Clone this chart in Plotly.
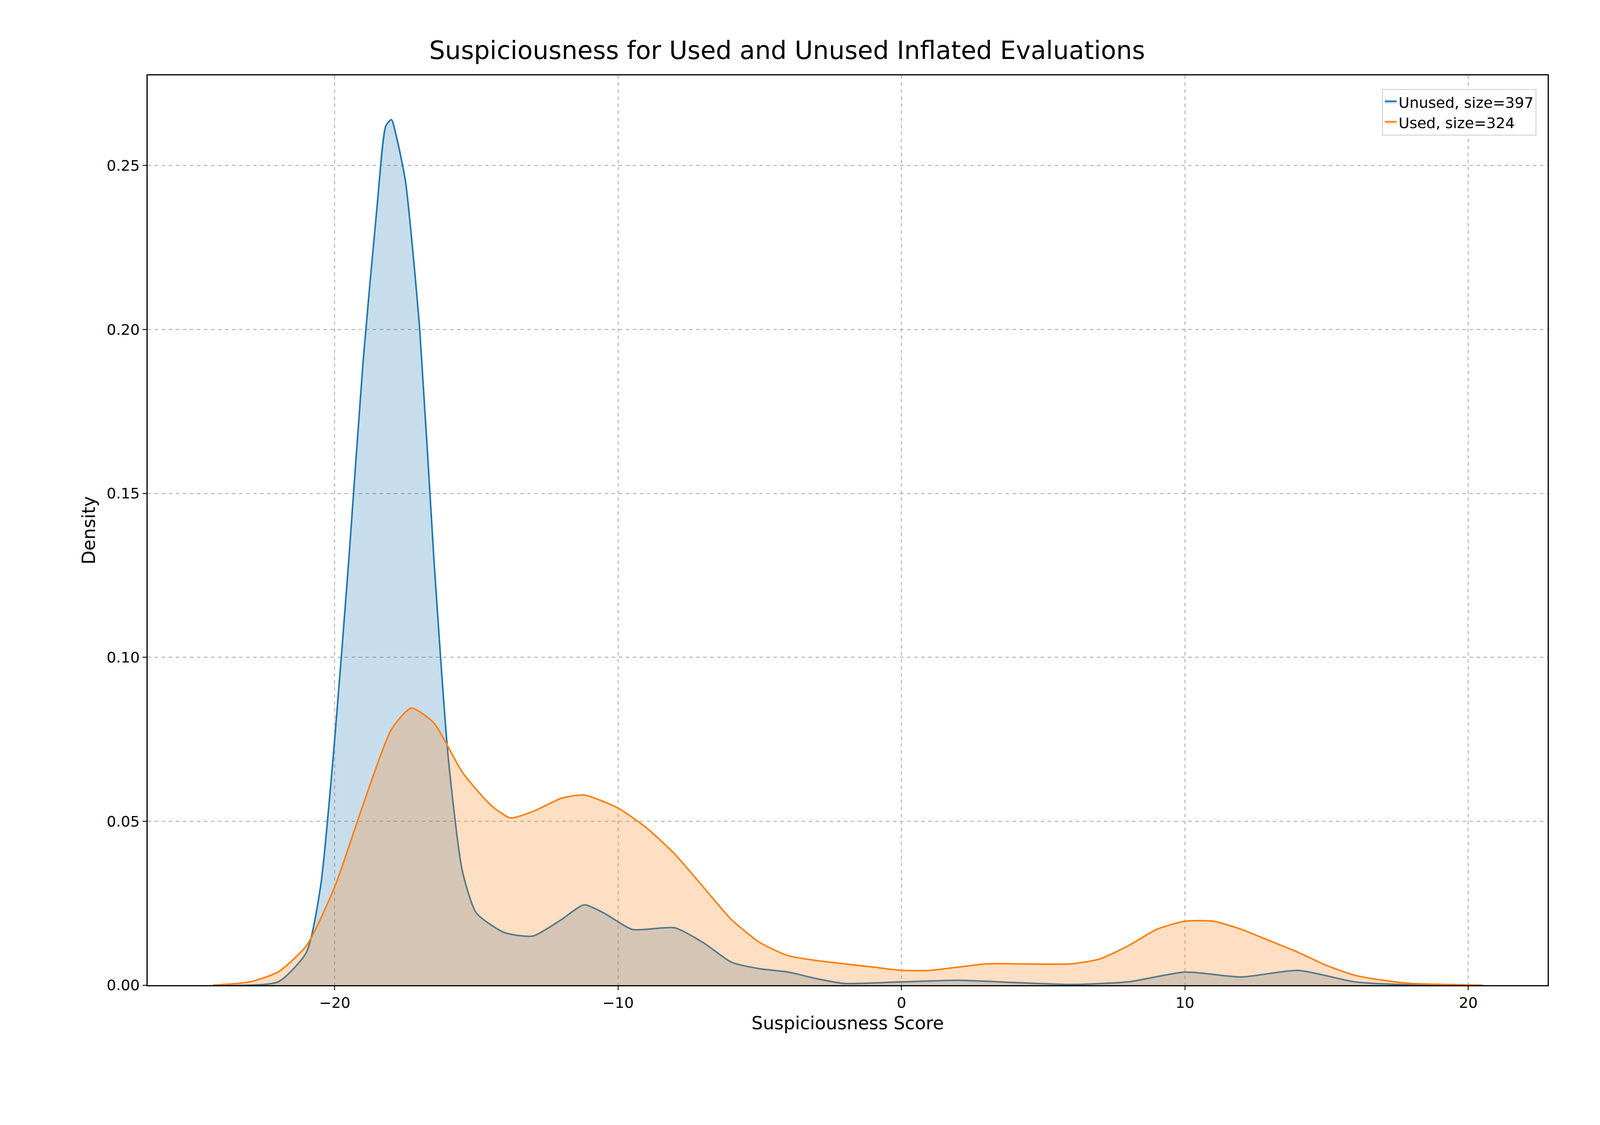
import plotly.graph_objects as go

unused_x = [-24.3,-22,-21,-20.5,-20,-19.5,-19,-18.5,-18.2,-18,-17.8,-17.5,-17,-16.5,-16,-15.5,-15,-14,-13,-12,-11.2,-10.5,-9.5,-8,-7,-6,-5,-4,-3,-2,0,2,4,6,8,10,12,14,16,18,20.5]
unused_y = [0,0.001,0.01,0.03,0.075,0.13,0.19,0.238,0.262,0.264,0.258,0.245,0.2,0.13,0.07,0.035,0.022,0.016,0.015,0.02,0.0245,0.022,0.017,0.0175,0.013,0.007,0.005,0.004,0.002,0.0005,0.001,0.0015,0.0008,0.0002,0.001,0.004,0.0025,0.0045,0.001,0.0001,0]
used_x = [-24.3,-23,-22,-21,-20,-19,-18,-17.3,-16.5,-15.5,-14.5,-13.8,-13,-12,-11.2,-10,-9,-8,-7,-6,-5,-4,-3,-2,-1,0,1,2,3,4,6,7,8,9,10,11,12,13,14,15,16,17,18,20.5]
used_y = [0,0.001,0.004,0.012,0.03,0.055,0.078,0.0845,0.08,0.065,0.055,0.051,0.053,0.057,0.058,0.054,0.048,0.04,0.03,0.02,0.013,0.009,0.0075,0.0065,0.0055,0.0045,0.0045,0.0055,0.0065,0.0065,0.0065,0.008,0.012,0.017,0.0195,0.0195,0.017,0.0135,0.01,0.006,0.003,0.0015,0.0005,0]
names = ["Unused, size=397", "Used, size=324"]

fig = go.Figure()
fig.add_trace(go.Scatter(x=unused_x, y=unused_y, name=names[0], mode="lines",
    line=dict(color="#1f77b4", width=4, shape="spline", smoothing=0.6),
    fill="tozeroy", fillcolor="rgba(31,119,180,0.25)"))
fig.add_trace(go.Scatter(x=used_x, y=used_y, name=names[1], mode="lines",
    line=dict(color="#ff7f0e", width=4, shape="spline", smoothing=0.6),
    fill="tozeroy", fillcolor="rgba(255,127,14,0.25)"))

ax = dict(showline=True, linecolor="black", linewidth=2.5, mirror=True, ticks="outside",
          ticklen=10, tickwidth=2.5, showgrid=True, gridcolor="rgba(176,176,176,0.8)",
          griddash="dash", gridwidth=2.5, zeroline=False, tickfont=dict(size=38, color="black"))
fig.update_layout(
    autosize=True, plot_bgcolor="white", paper_bgcolor="white",
    font=dict(family="DejaVu Sans", color="black"),
    title=dict(text="Suspiciousness for Used and Unused Inflated Evaluations", x=0.5, xanchor="center",
               y=0.965, font=dict(size=64)),
    margin=dict(l=370, r=60, t=185, b=280),
    xaxis=dict(ax, range=[-26.6, 22.8], tickvals=[-20,-10,0,10,20], ticktext=["−20","−10","0","10","20"],
               title=dict(text="Suspiciousness Score", font=dict(size=46))),
    yaxis=dict(ax, range=[0, 0.2775], tickvals=[0,0.05,0.1,0.15,0.2,0.25], tickformat=".2f",
               title=dict(text="Density", font=dict(size=46))),
    legend=dict(x=0.992, y=0.985, xanchor="right", yanchor="top", bgcolor="rgba(255,255,255,0.8)",
                bordercolor="#cccccc", borderwidth=2, font=dict(size=38)),
)
fig.write_html("out.html", default_width="98vw", default_height="97vh")
